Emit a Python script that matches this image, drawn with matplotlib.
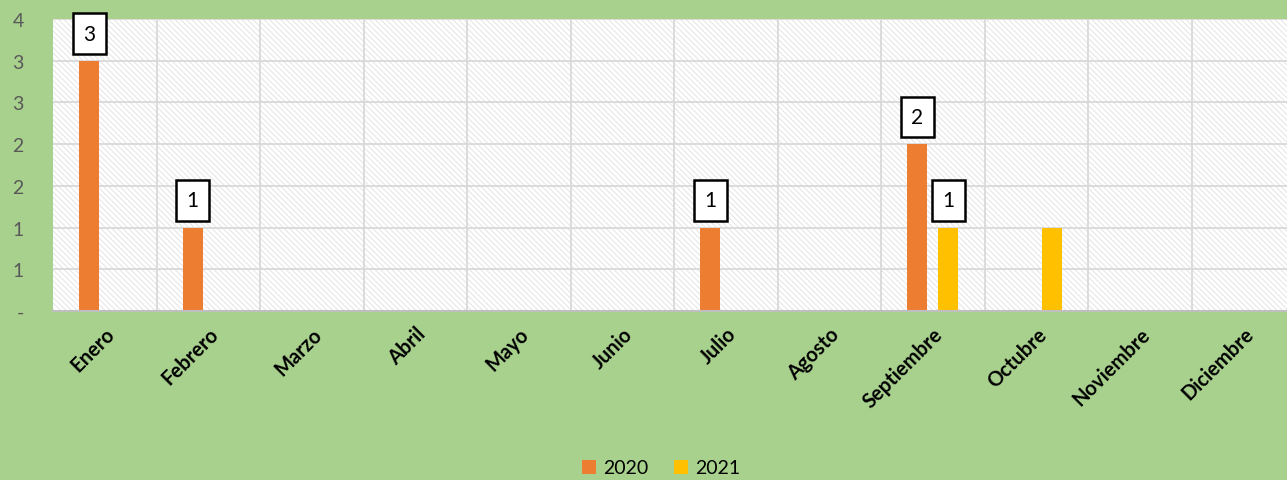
"""Incidencias por mes 2020 / 2021"""
import numpy as np
import matplotlib.pyplot as plt
from matplotlib.patches import Rectangle

meses = ['Enero', 'Febrero', 'Marzo', 'Abril', 'Mayo', 'Junio', 'Julio',
         'Agosto', 'Septiembre', 'Octubre', 'Noviembre', 'Diciembre']
valores_2020 = [3, 1, 0, 0, 0, 0, 1, 0, 2, 0, 0, 0]
valores_2021 = [0, 0, 0, 0, 0, 0, 0, 0, 1, 1, 0, 0]
# which bars carry a data label (the Octubre 2021 bar has none)
etiqueta_2021 = [False] * 8 + [True, False, False, False]
y_ticks = [0, 0.5, 1, 1.5, 2, 2.5, 3, 3.5]
y_tick_labels = ['-', '1', '1', '2', '2', '3', '3', '4']

VERDE = '#A9D18E'
NARANJA = '#ED7D31'
AMARILLO = '#FFC000'
GRIS = '#D9D9D9'

plt.rcParams['font.family'] = ['Lato', 'DejaVu Sans']
plt.rcParams['hatch.linewidth'] = 0.6

fig = plt.figure(figsize=(12.87, 4.81), dpi=100, facecolor=VERDE)
ax = fig.add_axes([53 / 1287, 1 - 312 / 481, 1242 / 1287, 292 / 481])

# hatched plot area
ax.patch.set_visible(False)
ax.add_patch(Rectangle((0, 0), 1, 1, transform=ax.transAxes, facecolor='white',
                       edgecolor='#E0E0E0', hatch='\\\\\\\\\\\\', lw=0, zorder=0))

x = np.arange(len(meses))
ancho = 0.195
b20 = ax.bar(x - 0.15, valores_2020, ancho, color=NARANJA, label='2020', zorder=3)
b21 = ax.bar(x + 0.15, valores_2021, ancho, color=AMARILLO, label='2021', zorder=3)

# data labels in boxes
caja = dict(boxstyle='square,pad=0.5', facecolor='white', edgecolor='black', lw=1.8)
for rect, v in zip(b20, valores_2020):
    if v > 0:
        ax.annotate(str(v), (rect.get_x() + rect.get_width() / 2, v),
                    xytext=(0, 19.5), textcoords='offset points', ha='center', va='center',
                    fontsize=15, bbox=caja, zorder=5)
for rect, v, mostrar in zip(b21, valores_2021, etiqueta_2021):
    if mostrar:
        ax.annotate(str(v), (rect.get_x() + rect.get_width() / 2, v),
                    xytext=(0, 19.5), textcoords='offset points', ha='center', va='center',
                    fontsize=15, bbox=caja, zorder=5)

# grid
for yv in y_ticks[1:]:
    ax.axhline(yv, color=GRIS, lw=1.3, zorder=1)
for xv in x[1:] - 0.5:
    ax.axvline(xv, color=GRIS, lw=1.3, zorder=1)

ax.set_xlim(-0.5, len(meses) - 0.5)
ax.set_ylim(0, 3.5)
ax.set_yticks(y_ticks)
ax.set_yticklabels(y_tick_labels)
ax.set_xticks(x)
ax.set_xticklabels(meses, rotation=45, ha='right', rotation_mode='anchor',
                   fontweight='bold', fontsize=14.5)
ax.tick_params(axis='y', length=0, pad=21, labelsize=14, labelcolor='#595959')
ax.tick_params(axis='x', length=0, pad=9)
for lado in ['left', 'right', 'top']:
    ax.spines[lado].set_visible(False)
ax.spines['bottom'].set_color('#BFBFBF')
ax.spines['bottom'].set_linewidth(1.5)
ax.spines['bottom'].set_zorder(4)

fig.legend(handles=[b20, b21], loc='center', bbox_to_anchor=(661 / 1287, 1 - 469 / 481),
           ncol=2, frameon=False, fontsize=14, handlelength=0.75, handleheight=0.75,
           handletextpad=0.35, columnspacing=1.3)

fig.savefig('out.png', dpi=100, facecolor=VERDE)
